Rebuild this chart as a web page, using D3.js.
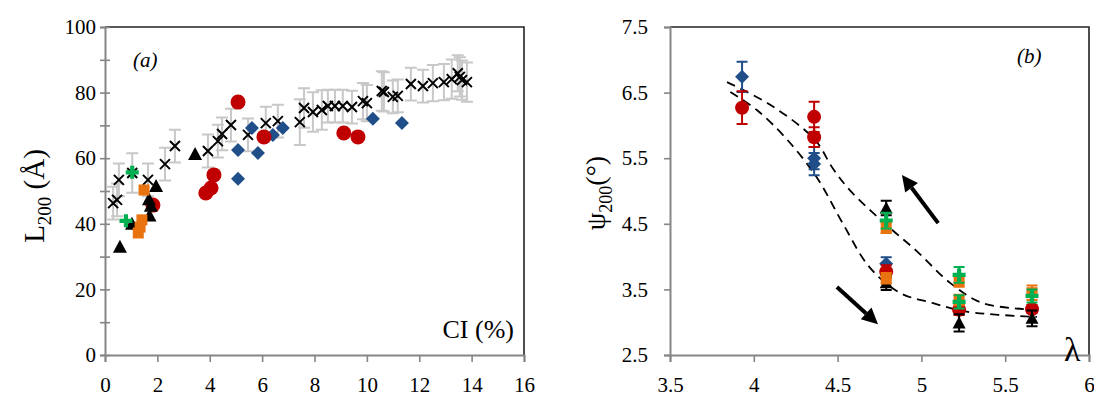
<!DOCTYPE html>
<html><head><meta charset="utf-8">
<script src="https://cdn.jsdelivr.net/npm/d3@7"></script>
<style>body{margin:0;background:#fff}svg text{font-family:"Liberation Serif","Times New Roman",serif;fill:#000}</style>
</head><body><svg id="c" width="1094" height="396"></svg>
<script>
// ---------- Panel (a) data ----------
const aXTicks = [0,2,4,6,8,10,12,14,16];
const aYTicks = [0,10,20,30,40,50,60,70,80,90,100];
const crossCI  = [0.31,0.46,0.53,1.04,1.64,2.29,2.67,3.93,4.31,4.47,4.81,5.46,6.14,6.6,7.44,7.6,7.94,8.28,8.51,8.78,9.08,9.43,9.85,10.0,10.57,10.65,10.99,11.18,11.68,12.14,12.52,12.94,13.24,13.47,13.55,13.63,13.82];
const crossL   = [46.3,47.3,53.4,55.5,53.4,58.2,63.7,62.2,65.2,67.4,70.1,67.1,70.7,71.3,71.0,75.3,74.1,74.7,75.9,75.9,75.9,75.6,77.4,76.8,80.5,80.2,78.7,79.0,82.6,82.0,82.9,83.2,84.1,85.9,84.8,83.8,83.2];
const crossErr = [5,5,5,6,5,5,5,5,5,5,5,5,5,5,7,6,6,6,5,5,5,5,5.5,5.5,6,6,5,5,5,5,5.5,5.5,6,5.5,6,6,6];
const blueCI = [5.08,5.08,5.61,5.84,6.41,6.79,10.23,11.34];
const blueL  = [53.7,62.5,69.2,61.6,67.1,69.2,72.0,70.7];
const redCI  = [1.83,3.85,4.05,4.16,5.08,6.07,9.12,9.66];
const redL   = [45.7,49.4,50.9,54.9,77.1,66.5,67.7,66.5];
const triCI  = [0.57,1.03,1.7,1.75,1.68,1.95,3.44];
const triL   = [33,40,42.5,45.5,47.5,51.5,61.3];
const orgCI  = [1.27,1.34,1.41,1.49];
const orgL   = [37.2,39.0,41.2,50.3];
const grnCI  = [0.8,1.04];
const grnL   = [40.9,55.7];

// ---------- Panel (b) data ----------
const bXTicks = [3.5,4,4.5,5,5.5,6];
const bYTicks = [2.5,3.5,4.5,5.5,6.5,7.5];
const bBlueLam = [3.93,4.36,4.36,4.79];
const bBluePsi = [6.74,5.50,5.41,3.89];
const bBlueErr = [0.23,0.17,0.17,0.10];
const bRedLam = [3.93,4.36,4.36,4.79,5.225,5.66];
const bRedPsi = [6.27,6.13,5.82,3.77,3.19,3.20];
const bRedErr = [0.25,0.23,0.15,0.10,0.08,0.06];
const bTriLam = [4.79,4.79,5.225,5.66];
const bTriPsi = [4.74,3.60,2.99,3.06];
const bTriErr = [0.11,0.11,0.13,0.12];
const bOrgLam = [4.79,4.79,5.225,5.225,5.66];
const bOrgPsi = [4.44,3.67,3.62,3.34,3.45];
const bOrgErr = [0.08,0.08,0.08,0.08,0.11];
const bGrnLam = [4.79,5.225,5.225,5.66];
const bGrnPsi = [4.55,3.72,3.31,3.40];
const bGrnErr = [0.12,0.12,0.10,0.10];
const upperLam = [3.84,4.10,4.365,4.47,4.574,4.77,4.974,5.171,5.367,5.69];
const upperPsi = [6.66,6.31,5.78,5.35,5.01,4.53,4.08,3.60,3.29,3.19];
const lowerLam = [3.86,4.02,4.20,4.38,4.53,4.69,4.87,5.07,5.27,5.69];
const lowerPsi = [6.51,6.23,5.78,5.19,4.51,3.84,3.45,3.29,3.16,3.08];
const arrowUp   = {lam:[5.10,4.884], psi:[4.51,5.244]};
const arrowDown = {lam:[4.496,4.741], psi:[3.537,2.97]};

const C = {blue:"#1f4e89", red:"#c00000", black:"#000", orange:"#e8730f", green:"#00b050", gray:"#868686", err:"#c8c8c8"};
const svg = d3.select("#c");

function marker(g, type, px, py, color, s){
  if(type==="diamond"){g.append("path").attr("d",`M${px},${py-s}L${px+s},${py}L${px},${py+s}L${px-s},${py}Z`).attr("fill",color);}
  else if(type==="circle"){g.append("circle").attr("cx",px).attr("cy",py).attr("r",s).attr("fill",color);}
  else if(type==="tri"){g.append("path").attr("d",`M${px},${py-s}L${px+s},${py+s*0.85}L${px-s},${py+s*0.85}Z`).attr("fill",color);}
  else if(type==="square"){g.append("rect").attr("x",px-s).attr("y",py-s).attr("width",2*s).attr("height",2*s).attr("fill",color);}
  else if(type==="plus"){g.append("path").attr("d",`M${px-s},${py}H${px+s}M${px},${py-s}V${py+s}`).attr("stroke",color).attr("stroke-width",4.2).attr("fill","none");}
  else if(type==="cross"){g.append("path").attr("d",`M${px-s},${py-s}L${px+s},${py+s}M${px-s},${py+s}L${px+s},${py-s}`).attr("stroke",color).attr("stroke-width",2).attr("fill","none");}
}
function errbar(g, px, y1, y2, color, cap, w){
  g.append("path").attr("d",`M${px},${y1}V${y2}M${px-cap},${y1}H${px+cap}M${px-cap},${y2}H${px+cap}`)
   .attr("stroke",color).attr("stroke-width",w).attr("fill","none");
}

// ================= Panel (a) =================
const xa = d3.scaleLinear().domain([0,16]).range([105,524]);
const ya = d3.scaleLinear().domain([0,100]).range([355,27]);
const ga = svg.append("g");
ga.append("path").attr("d",`M${xa(0)},${ya(100)}H${xa(16)}V${ya(0)}`).attr("stroke","#222").attr("stroke-width",1.6).attr("fill","none");
const yAx = ga.append("g").attr("transform",`translate(${xa(0)},0)`)
  .call(d3.axisLeft(ya).tickValues(aYTicks).tickSize(5).tickFormat(d=>d%20===0?d:""));
yAx.select(".domain").attr("stroke",C.gray).attr("stroke-width",2);
yAx.selectAll(".tick line").attr("x1",5).attr("x2",-5).attr("stroke",C.gray).attr("stroke-width",1.6);
yAx.selectAll(".tick text").attr("x",-9).attr("font-size",21).attr("fill","#000");
const xAx = ga.append("g").attr("transform",`translate(0,${ya(0)})`)
  .call(d3.axisBottom(xa).tickValues(aXTicks).tickSize(7));
xAx.select(".domain").attr("stroke",C.gray).attr("stroke-width",2);
xAx.selectAll(".tick line").attr("stroke",C.gray).attr("stroke-width",1.6);
xAx.selectAll(".tick text").attr("y",22).attr("dy","0.71em").attr("font-size",21).attr("fill","#000");

crossCI.forEach((c,i)=>errbar(ga, xa(c), ya(crossL[i]+crossErr[i]), ya(crossL[i]-crossErr[i]), C.err, 6, 2));
crossCI.forEach((c,i)=>marker(ga,"cross",xa(c),ya(crossL[i]),"#000",5));
blueCI.forEach((c,i)=>marker(ga,"diamond",xa(c),ya(blueL[i]),C.blue,7));
redCI.forEach((c,i)=>marker(ga,"circle",xa(c),ya(redL[i]),C.red,7.5));
triCI.forEach((c,i)=>marker(ga,"tri",xa(c),ya(triL[i]),C.black,7));
orgCI.forEach((c,i)=>marker(ga,"square",xa(c),ya(orgL[i]),C.orange,5.5));
grnCI.forEach((c,i)=>marker(ga,"plus",xa(c),ya(grnL[i]),C.green,6.5));

ga.append("text").attr("x",133).attr("y",67).attr("font-size",21).attr("font-style","italic").text("(a)");
ga.append("text").attr("x",514).attr("y",338).attr("text-anchor","end").attr("font-size",26).text("CI (%)");
const ta = ga.append("text").attr("transform","translate(44,196) rotate(-90)").attr("text-anchor","middle").attr("font-size",29);
ta.append("tspan").text("L");
ta.append("tspan").attr("font-size",19).attr("dy",7).text("200");
ta.append("tspan").attr("dy",-7).text(" (Å)");

// ================= Panel (b) =================
const xb = d3.scaleLinear().domain([3.5,6]).range([670,1089]);
const yb = d3.scaleLinear().domain([2.5,7.5]).range([355,27]);
const gb = svg.append("g");
gb.append("path").attr("d",`M${xb(3.5)},${yb(7.5)}H${xb(6)}V${yb(2.5)}`).attr("stroke","#222").attr("stroke-width",1.6).attr("fill","none");
const yBx = gb.append("g").attr("transform",`translate(${xb(3.5)},0)`)
  .call(d3.axisLeft(yb).tickValues(bYTicks).tickSize(6).tickFormat(d3.format(".1f")));
yBx.select(".domain").attr("stroke",C.gray).attr("stroke-width",2);
yBx.selectAll(".tick line").attr("stroke",C.gray).attr("stroke-width",1.6);
yBx.selectAll(".tick text").attr("x",-22).attr("font-size",21).attr("fill","#000");
const xBx = gb.append("g").attr("transform",`translate(0,${yb(2.5)})`)
  .call(d3.axisBottom(xb).tickValues(bXTicks).tickSize(7).tickFormat(d=>d));
xBx.select(".domain").attr("stroke",C.gray).attr("stroke-width",2);
xBx.selectAll(".tick line").attr("stroke",C.gray).attr("stroke-width",1.6);
xBx.selectAll(".tick text").attr("y",22).attr("dy","0.71em").attr("font-size",21).attr("fill","#000");

const lineB = d3.line().x(d=>xb(d[0])).y(d=>yb(d[1])).curve(d3.curveCatmullRom.alpha(0.5));
gb.append("path").attr("d",lineB(d3.zip(upperLam,upperPsi))).attr("fill","none").attr("stroke","#000").attr("stroke-width",1.8).attr("stroke-dasharray","9,6");
gb.append("path").attr("d",lineB(d3.zip(lowerLam,lowerPsi))).attr("fill","none").attr("stroke","#000").attr("stroke-width",1.8).attr("stroke-dasharray","9,6");

function seriesB(lams, psis, errs, type, color, size){
  lams.forEach((l,i)=>errbar(gb, xb(l), yb(psis[i]+errs[i]), yb(psis[i]-errs[i]), color, 5.5, 2));
  lams.forEach((l,i)=>marker(gb, type, xb(l), yb(psis[i]), color, size));
}
seriesB(bBlueLam,bBluePsi,bBlueErr,"diamond",C.blue,7);
seriesB(bRedLam,bRedPsi,bRedErr,"circle",C.red,7);
seriesB(bTriLam,bTriPsi,bTriErr,"tri",C.black,6.5);
seriesB(bOrgLam,bOrgPsi,bOrgErr,"square",C.orange,5.5);
seriesB(bGrnLam,bGrnPsi,bGrnErr,"plus",C.green,6.5);

function arrow(a){
  const x1=xb(a.lam[0]), y1=yb(a.psi[0]), x2=xb(a.lam[1]), y2=yb(a.psi[1]);
  const ang=Math.atan2(y2-y1,x2-x1), L=16, W=8;
  const bx=x2-L*Math.cos(ang), by=y2-L*Math.sin(ang);
  gb.append("line").attr("x1",x1).attr("y1",y1).attr("x2",bx).attr("y2",by).attr("stroke","#000").attr("stroke-width",4);
  const px=-Math.sin(ang)*W, py=Math.cos(ang)*W;
  gb.append("path").attr("d",`M${x2},${y2}L${bx+px},${by+py}L${bx-px},${by-py}Z`).attr("fill","#000");
}
arrow(arrowUp); arrow(arrowDown);

gb.append("text").attr("x",1017).attr("y",63).attr("font-size",21).attr("font-style","italic").text("(b)");
gb.append("text").attr("x",1064).attr("y",361).attr("font-size",34).text("λ");
const tb = gb.append("text").attr("transform","translate(605,193) rotate(-90)").attr("text-anchor","middle").attr("font-size",28);
tb.append("tspan").text("ψ");
tb.append("tspan").attr("font-size",18).attr("dy",7).text("200");
tb.append("tspan").attr("dy",-7).text("(°)");
</script></body></html>
